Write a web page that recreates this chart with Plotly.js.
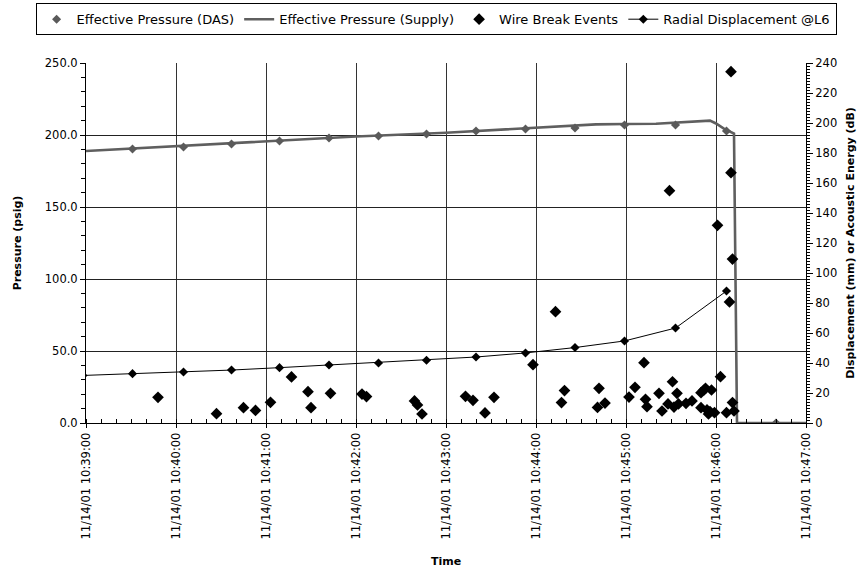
<!DOCTYPE html>
<html>
<head>
<meta charset="utf-8">
<script src="https://cdn.plot.ly/plotly-3.0.1.min.js"></script>
<style>html,body{margin:0;padding:0;background:#fff;}#chart{width:861px;height:581px;}</style>
</head>
<body>
<div id="chart"></div>
<script>
// Effective Pressure (DAS) - left axis (psig)
const dasTimes = ["10:39:31","10:40:05","10:40:37","10:41:09","10:41:42","10:42:15","10:42:47","10:43:20","10:43:53","10:44:26","10:44:59","10:45:33","10:46:07","10:46:40"];
const dasValues = [190.3,191.7,193.8,195.8,197.9,199.3,200.7,202.8,204.2,204.9,206.9,206.9,202.8,0];

// Effective Pressure (Supply) - left axis (psig)
const supplyTimes = ["10:39:00","10:40:00","10:41:00","10:42:00","10:43:00","10:44:00","10:44:40","10:45:00","10:45:20","10:45:56","10:46:00","10:46:05","10:46:11","10:46:12","10:46:14","10:47:00"];
const supplyValues = [188.9,192.2,195.6,199.0,201.6,205.2,207.4,207.6,207.8,210.0,208.0,204.6,201.6,201.0,0,0];

// Radial Displacement @L6 - right axis
const dispTimes = ["10:38:58","10:39:31","10:40:05","10:40:37","10:41:09","10:41:42","10:42:15","10:42:47","10:43:20","10:43:53","10:44:26","10:44:59","10:45:33","10:46:07"];
const dispValues = [31.7,32.9,34.0,35.3,36.9,38.7,40.0,41.8,44.0,46.7,50.3,54.7,63.3,88.0];

// Wire Break Events - right axis (dB)
const wireTimes = ["10:39:48","10:40:27","10:40:45","10:40:53","10:41:03","10:41:17","10:41:28","10:41:30","10:41:43","10:42:04","10:42:07","10:42:39","10:42:41","10:42:44","10:43:13","10:43:18","10:43:26","10:43:32","10:43:58","10:44:13","10:44:17","10:44:19","10:44:41","10:44:42","10:44:46","10:45:02","10:45:06","10:45:12","10:45:13","10:45:14","10:45:22","10:45:24","10:45:28","10:45:29","10:45:31","10:45:32","10:45:34","10:45:35","10:45:40","10:45:44","10:45:50","10:45:52","10:45:53","10:45:57","10:45:50","10:45:54","10:45:55","10:45:56","10:45:59","10:46:01","10:46:03","10:46:07","10:46:09","10:46:10","10:46:10","10:46:11","10:46:12","10:46:11"];
const wireValues = [17.1,6.2,10.2,8.4,13.8,30.7,20.9,10.2,19.8,19.3,17.6,14.7,12.0,6.0,17.8,15.1,6.7,17.1,38.9,74.2,13.6,21.6,10.4,23.1,13.3,17.3,23.8,40.2,15.8,10.9,19.8,8.0,12.7,154.9,27.5,10.6,19.8,12.7,13.1,14.7,20.2,22.0,23.1,22.0,10.2,8.7,6.0,7.6,6.9,131.8,30.9,6.9,80.7,234.2,166.9,13.6,8.0,109.3];

const xTickVals = ["10:39:00","10:40:00","10:41:00","10:42:00","10:43:00","10:44:00","10:45:00","10:46:00","10:47:00"];

const day = "2001-11-14 ";
const d = a => a.map(s => day + s);
const FONT = "DejaVu Sans, sans-serif";

const traces = [
  {name:"Effective Pressure (Supply)", x:d(supplyTimes), y:supplyValues, mode:"lines",
   line:{color:"#5f5f5f", width:2.6}, yaxis:"y", legendrank:2},
  {name:"Effective Pressure (DAS)", x:d(dasTimes), y:dasValues, mode:"markers",
   marker:{symbol:"diamond", size:7, color:"#5a5a5a"}, yaxis:"y", legendrank:1},
  {name:"Radial Displacement @L6", x:d(dispTimes), y:dispValues, mode:"lines+markers",
   line:{color:"#000", width:1}, marker:{symbol:"diamond", size:7, color:"#000"}, yaxis:"y2", legendrank:4},
  {name:"Wire Break Events", x:d(wireTimes), y:wireValues, mode:"markers",
   marker:{symbol:"diamond", size:9, color:"#000"}, yaxis:"y2", legendrank:3}
];

const layout = {
  width:861, height:581,
  margin:{l:86, r:55, t:63, b:158, autoexpand:false},
  paper_bgcolor:"#fff", plot_bgcolor:"#fff",
  font:{family:FONT, size:11, color:"#000"},
  showlegend:true,
  legend:{orientation:"h", x:-0.07, xanchor:"left", y:1.166, yanchor:"top",
          bordercolor:"#000", borderwidth:1, bgcolor:"#fff",
          font:{family:FONT, size:13, color:"#000"}, traceorder:"normal",
          itemwidth:30, tracegroupgap:0},
  xaxis:{type:"date", range:[day+"10:39:00", day+"10:47:00"],
         tickvals:d(xTickVals), tickformat:"%m/%d/%y %H:%M:%S", tickangle:-90,
         showgrid:true, gridcolor:"#333", gridwidth:1,
         showline:true, linecolor:"#000", linewidth:1,
         ticks:"outside", ticklen:4, tickcolor:"#000",
         minor:{dtick:10000, ticks:"inside", ticklen:4, tickcolor:"#000", showgrid:false},
         tickfont:{family:FONT, size:11.5},
         title:{text:"<b>Time</b>", font:{family:FONT, size:11}, standoff:18},
         zeroline:false, fixedrange:true},
  yaxis:{range:[0,250], dtick:50, tickformat:".1f",
         showgrid:true, gridcolor:"#222", gridwidth:1,
         showline:true, linecolor:"#000", linewidth:1,
         ticks:"outside", ticklen:5, tickcolor:"#000",
         minor:{dtick:10, ticks:"outside", ticklen:4, tickcolor:"#000", showgrid:false},
         tickfont:{family:FONT, size:11.5},
         title:{text:"<b>Pressure (psig)</b>", font:{family:FONT, size:11}, standoff:20},
         zeroline:false},
  yaxis2:{range:[0,240], dtick:20, overlaying:"y", side:"right",
          showgrid:false, showline:true, linecolor:"#000", linewidth:1,
          ticks:"outside", ticklen:6, tickcolor:"#000",
          minor:{dtick:2, ticks:"outside", ticklen:3, tickcolor:"#000"},
          tickfont:{family:FONT, size:11.5},
          title:{text:"<b>Displacement (mm) or Acoustic Energy (dB)</b>", font:{family:FONT, size:11}, standoff:10},
          zeroline:false}
};

Plotly.newPlot("chart", traces, layout, {displayModeBar:false, staticPlot:true});
</script>
</body>
</html>
